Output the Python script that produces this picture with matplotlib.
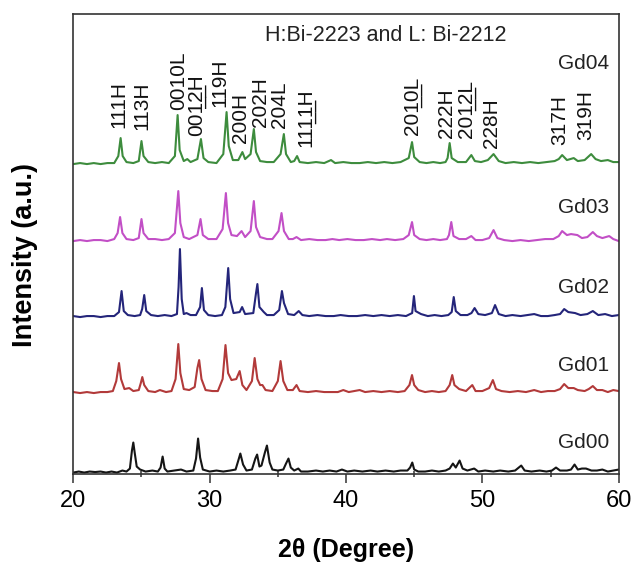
import numpy as np
import matplotlib
matplotlib.use('Agg')
import matplotlib.pyplot as plt

plt.rcParams['font.family'] = ['Liberation Sans', 'DejaVu Sans']

# XRD traces: (2theta, intensity above own baseline)
gd00 = [(20.0,0),(20.4,1),(20.8,0),(21.2,1),(21.6,0.5),(22.0,1),(22.4,0),(22.8,1),(23.2,0),(23.6,2),
        (23.9,1),(24.15,4),(24.3,22),(24.4,30),(24.5,20),(24.65,6),(24.9,3),(25.3,1),(25.8,2),(26.2,1),
        (26.4,5),(26.55,16),(26.7,4),(26.9,1),(27.4,2),(27.9,3),(28.3,1),(28.8,2),(29.0,14),(29.15,34),
        (29.3,15),(29.5,3),(30.0,1),(30.5,2),(31.0,1),(31.5,2),(31.9,3),(32.1,12),(32.25,19),(32.45,8),
        (32.7,2),(33.1,3),(33.35,14),(33.48,18),(33.65,6),(33.8,7),(34.05,20),(34.2,27),(34.4,10),(34.6,3),
        (35.0,2),(35.4,3),(35.6,9),(35.78,14),(35.95,5),(36.2,2),(36.5,4),(36.7,1),(37.2,1),(37.8,2),
        (38.3,1),(38.8,2),(39.3,1),(39.7,3),(40.1,1),(40.6,2),(41.2,1),(41.8,2),(42.3,1),(42.9,2),
        (43.5,1),(44.0,2),(44.5,2),(44.7,5),(44.86,10),(45.0,3),(45.3,1),(45.8,1),(46.3,2),(46.8,1),
        (47.3,2),(47.6,4),(47.84,9),(48.05,5),(48.33,12),(48.55,4),(48.9,2),(49.4,4),(49.7,1),(50.2,2),
        (50.8,1),(51.3,2),(51.9,1),(52.4,2),(52.85,7),(53.1,2),(53.6,1),(54.2,2),(54.7,1),(55.1,2),
        (55.4,5),(55.7,2),(56.2,2),(56.5,3),(56.76,8),(57.0,3),(57.3,4),(57.6,4),(58.0,2),(58.4,2),
        (58.8,3),(59.2,1),(59.6,2),(60.0,3)]

gd01 = [(20.0,1),(20.5,0),(21.0,1),(21.5,0),(22.0,1),(22.5,1),(22.9,2),(23.15,12),(23.35,30),(23.5,14),
        (23.75,4),(24.1,5),(24.4,2),(24.8,3),(24.95,10),(25.06,16),(25.2,8),(25.5,2),(26.0,1),(26.35,3),
        (26.8,1),(27.2,2),(27.5,14),(27.7,49),(27.85,20),(28.1,4),(28.5,3),(28.9,6),(29.1,25),(29.23,33),
        (29.4,14),(29.7,3),(30.2,2),(30.6,2),(30.95,14),(31.16,48),(31.35,20),(31.6,13),(31.95,14),(32.2,22),
        (32.4,8),(32.7,3),(33.1,12),(33.3,35),(33.5,14),(33.7,8),(33.87,8),(34.1,3),(34.6,2),(35.0,12),
        (35.2,32),(35.4,12),(35.7,3),(36.1,3),(36.37,8),(36.6,2),(37.2,1),(37.8,2),(38.4,1),(39.0,1),
        (39.4,1),(39.8,3),(40.2,1),(40.6,2),(41.0,3),(41.4,1),(42.0,2),(42.6,1),(43.2,2),(43.8,1),
        (44.3,2),(44.65,8),(44.84,18),(45.0,8),(45.3,3),(45.8,1),(46.3,2),(46.8,1),(47.3,2),(47.6,8),
        (47.79,18),(47.95,8),(48.3,4),(48.8,2),(49.26,8),(49.5,2),(50.0,2),(50.5,5),(50.77,13),(51.0,4),
        (51.4,2),(52.0,1),(52.6,2),(53.2,1),(53.8,3),(54.3,1),(54.8,2),(55.3,2),(55.7,4),(56.0,9),
        (56.3,5),(56.7,5),(57.0,3),(57.5,2),(57.8,4),(58.1,7),(58.4,3),(58.8,3),(59.2,1),(59.6,3),(60.0,2)]

gd02 = [(20.0,1),(20.5,0),(21.0,1),(21.5,1),(22.0,0),(22.5,1),(23.0,1),(23.35,5),(23.54,26),(23.7,6),
        (24.0,2),(24.5,1),(24.9,2),(25.05,8),(25.2,22),(25.35,6),(25.7,2),(26.2,1),(26.7,2),(27.2,1),
        (27.6,3),(27.72,30),(27.82,68),(27.95,18),(28.1,3),(28.3,4),(28.6,2),(29.0,2),(29.3,10),(29.43,29),
        (29.58,7),(29.9,2),(30.4,1),(30.9,2),(31.15,10),(31.36,49),(31.5,18),(31.75,4),(32.2,5),(32.38,10),
        (32.6,3),(33.2,4),(33.4,24),(33.5,33),(33.65,10),(33.97,5),(34.2,2),(34.7,2),(35.1,7),(35.3,26),
        (35.45,14),(35.75,3),(36.2,2),(36.53,6),(36.8,2),(37.3,1),(37.9,2),(38.5,1),(39.1,1),(39.6,2),
        (40.2,1),(40.8,1),(41.4,2),(42.0,1),(42.6,2),(43.2,1),(43.8,2),(44.4,1),(44.85,4),(44.98,21),
        (45.1,6),(45.5,3),(46.0,1),(46.5,2),(47.0,1),(47.5,2),(47.75,5),(47.9,20),(48.05,6),(48.4,2),
        (48.9,2),(49.2,4),(49.43,9),(49.7,3),(50.2,2),(50.7,4),(50.93,12),(51.2,3),(51.7,1),(52.2,2),
        (52.8,1),(53.3,2),(53.8,3),(54.3,1),(54.8,1),(55.3,2),(55.7,3),(56.0,8),(56.3,5),(56.8,4),
        (57.2,2),(57.7,3),(58.1,6),(58.5,2),(59.0,3),(59.5,1),(60.0,2)]

gd03 = [(20.0,0),(20.5,1),(21.0,0),(21.5,1),(22.0,1),(22.5,0),(23.0,2),(23.25,8),(23.43,24),(23.6,8),
        (23.9,2),(24.4,1),(24.8,3),(25.0,22),(25.15,8),(25.5,2),(26.0,2),(26.5,1),(27.0,2),(27.45,8),
        (27.7,50),(27.85,18),(28.1,4),(28.5,2),(29.1,6),(29.33,22),(29.5,6),(29.9,2),(30.5,2),(30.95,12),
        (31.19,48),(31.35,18),(31.6,6),(32.0,5),(32.34,10),(32.6,4),(33.0,10),(33.24,40),(33.4,14),(33.7,4),
        (34.2,2),(34.6,2),(35.05,10),(35.27,28),(35.45,10),(35.8,2),(36.1,2),(36.37,4),(36.7,1),(37.3,2),
        (37.9,1),(38.5,1),(39.0,2),(39.5,1),(40.1,2),(40.7,1),(41.3,1),(41.9,2),(42.5,1),(43.0,2),
        (43.6,1),(44.2,2),(44.6,6),(44.84,19),(45.0,6),(45.4,2),(45.9,1),(46.4,2),(46.9,1),(47.4,2),
        (47.55,6),(47.72,19),(47.88,5),(48.3,2),(48.8,2),(49.19,5),(49.5,1),(50.0,1),(50.5,3),(50.82,11),
        (51.1,3),(51.6,1),(52.2,0),(52.8,1),(53.4,0),(54.0,1),(54.6,2),(55.2,2),(55.6,5),(55.85,10),
        (56.2,6),(56.5,7),(56.97,6),(57.3,3),(57.7,4),(58.1,9),(58.4,5),(58.8,3),(59.3,5),(59.6,2),(60.0,0)]

gd04 = [(20.0,0),(20.5,1),(21.0,0),(21.5,1),(22.0,0),(22.5,1),(23.0,1),(23.3,8),(23.47,26),(23.62,8),
        (23.9,2),(24.4,1),(24.8,3),(25.0,23),(25.15,8),(25.5,2),(26.0,1),(26.5,2),(27.0,1),(27.45,8),
        (27.65,49),(27.8,14),(28.1,3),(28.36,5),(28.6,2),(29.1,5),(29.36,25),(29.55,6),(29.9,2),(30.5,1),
        (31.0,10),(31.24,52),(31.4,18),(31.7,4),(32.1,4),(32.4,12),(32.6,5),(33.0,10),(33.24,35),(33.4,12),
        (33.7,3),(34.2,2),(34.7,2),(35.2,10),(35.44,30),(35.6,10),(35.95,2),(36.2,3),(36.41,8),(36.6,2),
        (37.2,1),(37.8,2),(38.4,1),(38.9,4),(39.2,1),(39.8,2),(40.4,1),(41.0,1),(41.6,2),(42.2,1),
        (42.8,2),(43.4,1),(44.0,2),(44.6,6),(44.84,22),(45.0,7),(45.4,2),(45.9,1),(46.4,2),(46.9,1),
        (47.3,2),(47.45,6),(47.6,21),(47.75,6),(48.2,2),(48.8,2),(49.19,9),(49.45,3),(49.9,2),(50.4,4),
        (50.82,10),(51.2,3),(51.7,1),(52.3,2),(52.9,1),(53.5,2),(54.1,1),(54.7,2),(55.3,3),(55.6,5),
        (55.85,9),(56.2,4),(56.7,6),(57.0,3),(57.5,4),(57.98,10),(58.3,5),(58.7,3),(59.2,4),(59.6,2),(60.0,2)]

samples = ['Gd00', 'Gd01', 'Gd02', 'Gd03', 'Gd04']
traces = [gd00, gd01, gd02, gd03, gd04]
offsets = [1.5, 81, 157, 233, 310]
colors = ['#151515', '#b23a3a', '#24257a', '#c24fc6', '#3d8c3d']
name_y = [32, 109, 187, 267, 411]

# peak labels (hkl, phase) above the Gd04 trace; '_' marks underlined digits
peak_labels = ['111H', '113H', '0010L', '00_12_H', '119H', '200H', '202H', '204L', '11_11_H',
               '20_10_L', '222H', '20_12_L', '228H', '317H', '319H']
peak_x = [23.37, 25.05, 27.73, 29.06, 30.78, 32.28, 33.7, 35.15, 37.08,
          44.9, 47.4, 48.82, 50.65, 55.65, 57.55]
peak_y = [346, 344, 364, 338, 367, 331, 347, 346, 327,
          339, 336, 336, 326, 329, 334]


def underline(s):
    out = ''
    parts = s.split('_')
    for i, p in enumerate(parts):
        if i % 2 == 1:
            out += ''.join(c + '\u0332' for c in p)
        else:
            out += p
    return out


fig = plt.figure(figsize=(6.32, 5.63), dpi=100)
ax = fig.add_axes([0.116, 0.158, 0.863, 0.817])

for name, tr, off, col, ny in zip(samples, traces, offsets, colors, name_y):
    d = np.array(tr)
    ax.plot(d[:, 0], d[:, 1] + off, color=col, lw=1.5)
    ax.text(59.3, ny, name, ha='right', va='center', fontsize=15, color='#222222')

for lab, px, py in zip(peak_labels, peak_x, peak_y):
    ax.text(px, py, underline(lab), rotation=90, ha='center', va='bottom',
            fontsize=15, color='#111111')

ax.text(42.9, 439, 'H:Bi-2223 and L: Bi-2212', ha='center', va='center',
        fontsize=15.5, color='#222222')

ax.set_xlim(20, 60)
ax.set_ylim(0, 460)
ax.set_yticks([])
ax.set_xticks([20, 30, 40, 50, 60])
ax.set_xticks([25, 35, 45, 55], minor=True)
ax.tick_params(axis='x', which='major', direction='out', length=6.5, width=1.1,
               labelsize=17, pad=5, colors='#333333', labelcolor='black')
ax.tick_params(axis='x', which='minor', direction='inout', length=5, width=1.1,
               colors='#333333')
for sp in ax.spines.values():
    sp.set_linewidth(1.2)
    sp.set_color('#333333')

ax.set_xlabel('2\u03b8 (Degree)', fontsize=18, fontweight='bold', va='center')
ax.xaxis.set_label_coords(0.5, -0.165)
ax.set_ylabel('Intensity (a.u.)', fontsize=19.5, fontweight='bold', va='center')
ax.yaxis.set_label_coords(-0.0885, 0.476)

fig.savefig('out.png', dpi=100)
